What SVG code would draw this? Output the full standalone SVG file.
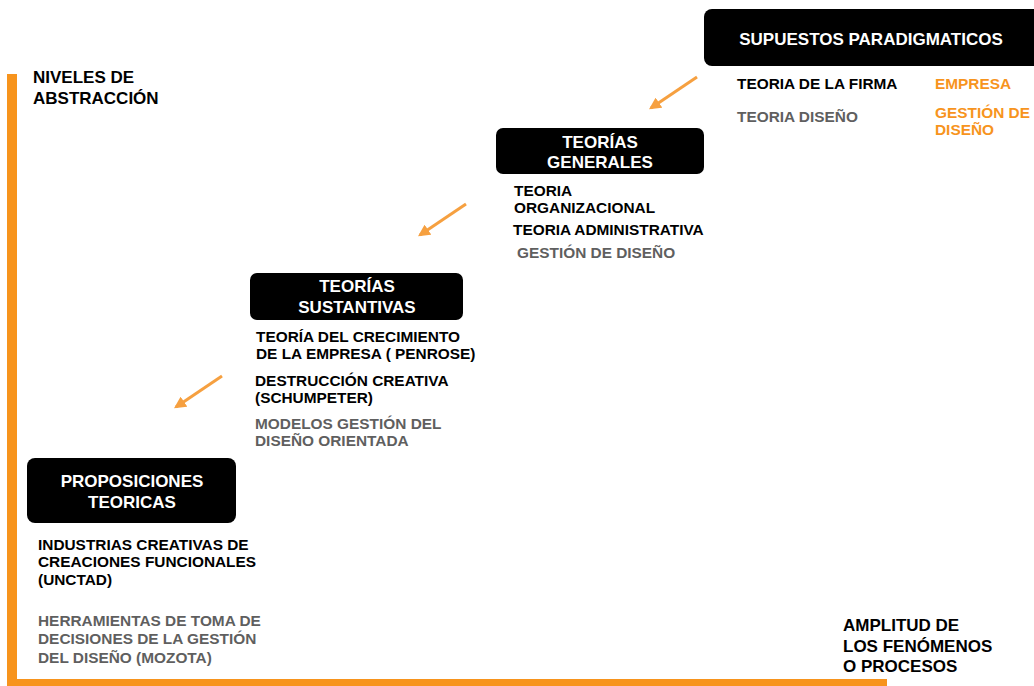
<svg xmlns="http://www.w3.org/2000/svg" width="1034" height="686" viewBox="0 0 1034 686">
<defs>
<style>
text{font-family:"Liberation Sans",Arial,sans-serif;font-weight:bold}
.t{font-size:17px;fill:#fff;text-anchor:middle}
.lab{font-size:17px;fill:#000}
.i{font-size:15.4px;fill:#000}
.g{font-size:15.4px;fill:#5f5f5f}
.o{font-size:15.4px;fill:#f7941d}
.box{fill:#000}
.ax{fill:#f7941d}
.arr{stroke:#f6a040;stroke-width:3;fill:none;marker-end:url(#ah)}
</style>
<marker id="ah" viewBox="0 0 10 10" refX="8" refY="5" markerWidth="4" markerHeight="4.4" orient="auto" markerUnits="strokeWidth">
<path d="M0,0 L10,5 L0,10 Z" fill="#f6a040"/>
</marker>
</defs>
<rect width="1034" height="686" fill="#fff"/>
<g id="axes">
<rect class="ax" x="7" y="74" width="10" height="612"/>
<rect class="ax" x="7" y="679" width="880" height="7"/>
<text class="lab" x="33" y="83">NIVELES DE</text>
<text class="lab" x="33" y="104">ABSTRACCIÓN</text>
<text class="lab" x="843" y="631">AMPLITUD DE</text>
<text class="lab" x="843" y="652">LOS FENÓMENOS</text>
<text class="lab" x="843" y="672">O PROCESOS</text>
</g>
<g id="connectors">
<line class="arr" x1="697" y1="77" x2="651" y2="108"/>
<line class="arr" x1="466" y1="204" x2="420" y2="235"/>
<line class="arr" x1="222" y1="376" x2="176" y2="407"/>
</g>
<g id="supuestos">
<rect class="box" x="704" y="9" width="340" height="57" rx="8"/>
<text class="t" x="871" y="45">SUPUESTOS PARADIGMATICOS</text>
<text class="i" x="737" y="89">TEORIA DE LA FIRMA</text>
<text class="o" x="935" y="89">EMPRESA</text>
<text class="g" x="737" y="122">TEORIA DISEÑO</text>
<text class="o" x="935" y="118">GESTIÓN DE</text>
<text class="o" x="935" y="135">DISEÑO</text>
</g>
<g id="generales">
<rect class="box" x="496" y="128" width="208" height="46" rx="7"/>
<text class="t" x="600" y="148">TEORÍAS</text>
<text class="t" x="600" y="168">GENERALES</text>
<text class="i" x="514" y="196">TEORIA</text>
<text class="i" x="514" y="213">ORGANIZACIONAL</text>
<text class="i" x="513" y="235">TEORIA ADMINISTRATIVA</text>
<text class="g" x="517" y="258">GESTIÓN DE DISEÑO</text>
</g>
<g id="sustantivas">
<rect class="box" x="250" y="273" width="213" height="47" rx="7"/>
<text class="t" x="357" y="292">TEORÍAS</text>
<text class="t" x="357" y="313">SUSTANTIVAS</text>
<text class="i" x="256" y="342">TEORÍA DEL CRECIMIENTO</text>
<text class="i" x="256" y="359">DE LA EMPRESA ( PENROSE)</text>
<text class="i" x="255" y="386">DESTRUCCIÓN CREATIVA</text>
<text class="i" x="255" y="403">(SCHUMPETER)</text>
<text class="g" x="255" y="429">MODELOS GESTIÓN DEL</text>
<text class="g" x="255" y="446">DISEÑO ORIENTADA</text>
</g>
<g id="proposiciones">
<rect class="box" x="27" y="458" width="209" height="65" rx="8"/>
<text class="t" x="132" y="487">PROPOSICIONES</text>
<text class="t" x="132" y="508">TEORICAS</text>
<text class="i" x="38" y="550">INDUSTRIAS CREATIVAS DE</text>
<text class="i" x="38" y="567">CREACIONES FUNCIONALES</text>
<text class="i" x="38" y="585">(UNCTAD)</text>
<text class="g" x="38" y="626">HERRAMIENTAS DE TOMA DE</text>
<text class="g" x="38" y="644">DECISIONES DE LA GESTIÓN</text>
<text class="g" x="38" y="663">DEL DISEÑO (MOZOTA)</text>
</g>
</svg>
